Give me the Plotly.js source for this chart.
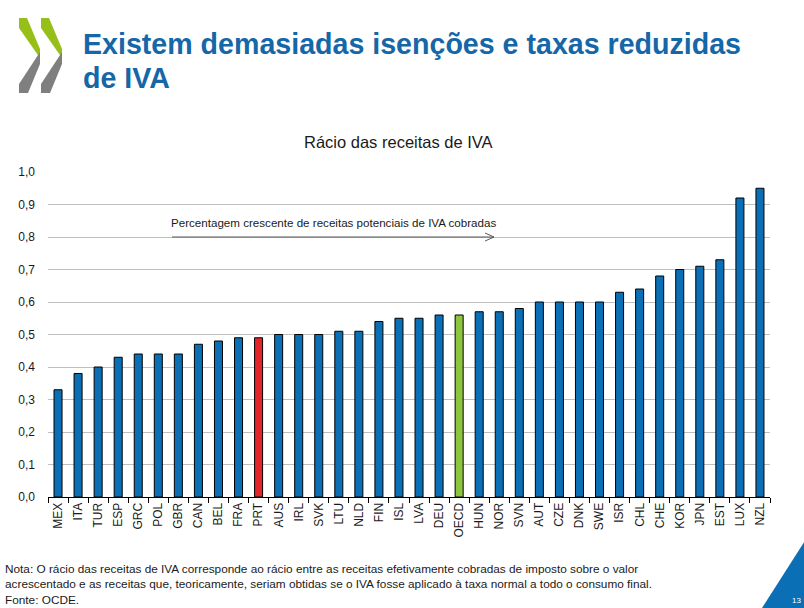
<!DOCTYPE html>
<html>
<head>
<meta charset="utf-8">
<script src="https://cdn.plot.ly/plotly-3.0.1.min.js"></script>
<style>html,body{margin:0;padding:0;background:#fff;}#chart{width:804px;height:608px;}</style>
</head>
<body>
<div id="chart"></div>
<script>
const categories = ["MEX","ITA","TUR","ESP","GRC","POL","GBR","CAN","BEL","FRA","PRT","AUS","IRL","SVK","LTU","NLD","FIN","ISL","LVA","DEU","OECD","HUN","NOR","SVN","AUT","CZE","DNK","SWE","ISR","CHL","CHE","KOR","JPN","EST","LUX","NZL"];
const vatRatio = [0.33,0.38,0.40,0.43,0.44,0.44,0.44,0.47,0.48,0.49,0.49,0.50,0.50,0.50,0.51,0.51,0.54,0.55,0.55,0.56,0.56,0.57,0.57,0.58,0.60,0.60,0.60,0.60,0.63,0.64,0.68,0.70,0.71,0.73,0.92,0.95];
const yTickVals = [0,0.1,0.2,0.3,0.4,0.5,0.6,0.7,0.8,0.9,1.0];

const BLUE = '#0B6FB6', RED = '#E2242B', GREEN = '#8CC63F';
const barColors = categories.map(c => c === 'PRT' ? RED : (c === 'OECD' ? GREEN : BLUE));

// plot area in pixels
const PL = 48, PR = 770, PT = 172, PB = 497;
const px = x => (x - PL) / (PR - PL);
const py = y => (PB - y) / (PB - PT);
const path = pts => 'M' + pts.map(p => px(p[0]) + ',' + py(p[1])).join('L') + 'Z';

const font = 'Liberation Sans, Arial, sans-serif';

const shapes = [];
// OECD logo chevrons
[0, 22].forEach(dx => {
  shapes.push({type:'path', xref:'paper', yref:'paper', layer:'above', line:{width:0},
    fillcolor:'#97BF1A', path: path([[19+dx,18],[27+dx,18],[40+dx,49],[40+dx,58],[19+dx,28]])});
  shapes.push({type:'path', xref:'paper', yref:'paper', layer:'above', line:{width:0},
    fillcolor:'#7F7F7F', path: path([[40+dx,52],[40+dx,64],[28+dx,93],[19+dx,93],[19+dx,84]])});
});
// bottom-right corner triangle
shapes.push({type:'path', xref:'paper', yref:'paper', layer:'above', line:{width:0},
  fillcolor:'#0B6FB6', path: path([[762,608],[806,608],[806,539]])});
// arrow
const arrowY = 237;
shapes.push({type:'line', xref:'paper', yref:'paper', x0:px(172), x1:px(494), y0:py(arrowY), y1:py(arrowY), line:{color:'#595959', width:1}});
shapes.push({type:'line', xref:'paper', yref:'paper', x0:px(485), x1:px(494), y0:py(arrowY-4), y1:py(arrowY), line:{color:'#595959', width:1}});
shapes.push({type:'line', xref:'paper', yref:'paper', x0:px(485), x1:px(494), y0:py(arrowY+4), y1:py(arrowY), line:{color:'#595959', width:1}});

const titleFont = {family:font, size:28.6, weight:'bold', color:'#1567A8'};
const annotations = [
  {xref:'paper', yref:'paper', x:px(81), y:py(44), text:'Existem demasiadas isenções e taxas reduzidas', showarrow:false,
   xanchor:'left', yanchor:'middle', font:titleFont},
  {xref:'paper', yref:'paper', x:px(81), y:py(78), text:'de IVA', showarrow:false,
   xanchor:'left', yanchor:'middle', font:titleFont},
  {xref:'paper', yref:'paper', x:px(398), y:py(142), text:'Rácio das receitas de IVA', showarrow:false,
   xanchor:'center', yanchor:'middle', font:{family:font, size:16.5, color:'#1a1a1a'}},
  {xref:'paper', yref:'paper', x:px(169), y:py(222), text:'Percentagem crescente de receitas potenciais de IVA cobradas', showarrow:false,
   xanchor:'left', yanchor:'middle', font:{family:font, size:11.6, color:'#1a1a1a'}},
  {xref:'paper', yref:'paper', x:px(3), y:py(560), text:'Nota: O rácio das receitas de IVA corresponde ao rácio entre as receitas efetivamente cobradas de imposto sobre o valor<br>acrescentado e as receitas que, teoricamente, seriam obtidas se o IVA fosse aplicado à taxa normal a todo o consumo final.<br>Fonte: OCDE.',
   showarrow:false, xanchor:'left', yanchor:'top', align:'left', font:{family:font, size:11.8, color:'#1a1a1a'}},
  {xref:'paper', yref:'paper', x:px(790), y:py(600), text:'13', showarrow:false,
   xanchor:'left', yanchor:'middle', font:{family:font, size:8, color:'#ffffff'}}
];

const data = [{
  type:'bar', x:categories, y:vatRatio,
  marker:{color:barColors, line:{color:'#000000', width:1}},
  hoverinfo:'x+y'
}];

const layout = {
  width:804, height:608,
  margin:{l:PL, r:804-PR, t:PT, b:608-PB, pad:0},
  paper_bgcolor:'#ffffff', plot_bgcolor:'#ffffff',
  showlegend:false,
  separators:',.',
  bargap:0.6,
  xaxis:{type:'category', showline:true, linecolor:'#000', linewidth:1, ticks:'outside', tickson:'boundaries',
    ticklen:5, tickcolor:'#000', tickangle:-90, showgrid:false,
    tickfont:{family:font, size:12, color:'#1a1a1a'}},
  yaxis:{range:[0,1], tickvals:yTickVals, tickformat:'.1f', showgrid:true, gridcolor:'#BFBFBF', gridwidth:1,
    zeroline:false, showline:false, ticks:'', ticklabelstandoff:12,
    tickfont:{family:font, size:12, color:'#1a1a1a'}},
  yaxis2:{range:[0,1], tickvals:yTickVals, tickformat:'.1f', overlaying:'y', side:'right', showgrid:false,
    zeroline:false, showline:false, ticks:'', ticklabelstandoff:11,
    tickfont:{family:font, size:12, color:'#1a1a1a'}},
  shapes:shapes,
  annotations:annotations
};

Plotly.newPlot('chart', data, layout, {displayModeBar:false, staticPlot:true});
</script>
</body>
</html>
